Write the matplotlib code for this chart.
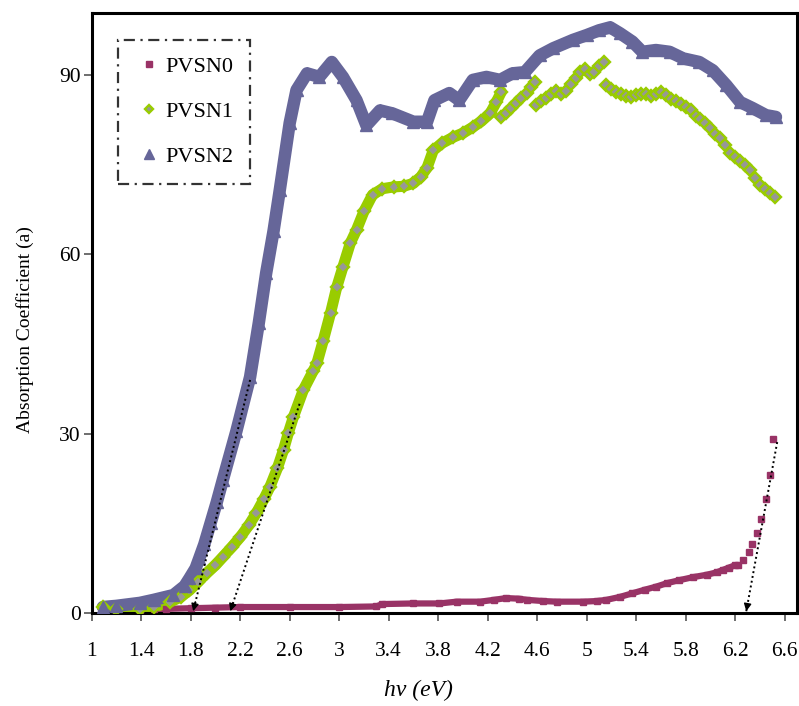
import matplotlib
matplotlib.use("Agg")
import matplotlib.pyplot as plt
import numpy as np
from matplotlib.ticker import FormatStrFormatter

plt.rcParams['font.family'] = 'serif'
plt.rcParams['font.serif'] = ['Liberation Serif', 'DejaVu Serif']

# photon energy (eV) and absorption coefficient for each film
pvsn0_e = [1.39, 1.5, 1.6, 1.8, 2.0, 2.2, 2.6, 3.0, 3.3, 3.35, 3.6, 3.81, 3.95, 4.14,
           4.25, 4.35, 4.45, 4.52, 4.65, 4.76, 4.97, 5.08, 5.16, 5.27, 5.37, 5.47,
           5.56, 5.65, 5.75, 5.86, 5.97, 6.05, 6.1, 6.15, 6.2,
           6.22, 6.26, 6.31, 6.34, 6.38, 6.41, 6.45, 6.48, 6.51]
pvsn0_a = [0.5, 0.6, 0.7, 0.8, 0.9, 1.0, 1.0, 1.0, 1.1, 1.5, 1.6, 1.6, 1.9, 1.9,
           2.2, 2.5, 2.4, 2.2, 2.0, 1.9, 1.9, 2.0, 2.2, 2.7, 3.3, 3.9,
           4.4, 5.0, 5.5, 6.0, 6.4, 6.8, 7.2, 7.6, 8.0,
           8.1, 8.9, 10.2, 11.5, 13.4, 15.7, 19.1, 23.1, 29.2]

pvsn1_e = [1.09, 1.2, 1.39, 1.5, 1.63, 1.72, 1.79, 1.86, 1.93, 2.0, 2.06, 2.13, 2.2,
           2.27, 2.33, 2.39, 2.44, 2.5, 2.55, 2.59, 2.63, 2.71, 2.79, 2.82, 2.87,
           2.93, 2.98, 3.03, 3.09, 3.14, 3.2, 3.27, 3.35, 3.44, 3.52, 3.6, 3.66,
           3.71, 3.76, 3.83, 3.92, 4.0, 4.08, 4.15, 4.22, 4.27, 4.31,
           4.31, 4.35, 4.39, 4.43, 4.47, 4.52, 4.55, 4.58,
           4.59, 4.63, 4.67, 4.71, 4.75, 4.79, 4.83, 4.87, 4.91, 4.95, 4.99, 5.03,
           5.06, 5.1, 5.14,
           5.16, 5.2, 5.24, 5.28, 5.32, 5.36, 5.4, 5.44, 5.48, 5.52, 5.56, 5.6,
           5.64, 5.68, 5.72, 5.76, 5.8, 5.84, 5.88, 5.92, 5.96, 6.0, 6.04, 6.08,
           6.12, 6.16, 6.2, 6.24, 6.28, 6.32, 6.36, 6.4, 6.44, 6.48, 6.52]
pvsn1_a = [1.0, 0.7, 0.6, 1.0, 1.8, 2.7, 3.8, 5.2, 6.7, 8.0, 9.4, 11.0, 12.7,
           14.7, 16.7, 19.0, 21.1, 24.2, 27.3, 30.2, 32.8, 37.3, 40.5, 41.8, 45.5,
           50.2, 54.5, 57.9, 61.9, 64.1, 67.2, 70.0, 71.0, 71.3, 71.4, 71.9, 73.0,
           74.5, 77.4, 78.6, 79.6, 80.3, 81.3, 82.3, 83.6, 85.5, 87.2,
           83.0, 83.6, 84.5, 85.3, 86.2, 87.0, 88.0, 88.9,
           85.0, 85.6, 86.2, 86.8, 87.3, 86.8, 87.4, 88.6, 89.5, 90.6, 91.0, 90.2,
           90.5, 91.5, 92.2,
           88.3, 87.6, 87.1, 86.9, 86.5, 86.4, 86.6, 86.9, 86.8, 86.5, 86.9, 87.2,
           86.6, 86.0, 85.6, 85.2, 84.7, 84.2, 83.2, 82.6, 82.0, 81.2, 80.2, 79.4,
           78.3, 77.0, 76.3, 75.6, 74.9, 74.2, 72.8, 71.7, 70.9, 70.2, 69.6]

pvsn2_e = [1.09, 1.2, 1.39, 1.5, 1.66, 1.75, 1.79, 1.84, 1.87, 1.91, 1.96, 2.01,
           2.06, 2.17, 2.28, 2.35, 2.41, 2.47, 2.52, 2.6, 2.655, 2.74, 2.84, 2.94,
           3.03, 3.14, 3.22, 3.33, 3.43, 3.6, 3.71, 3.77, 3.89, 3.97, 4.08, 4.19,
           4.3, 4.4, 4.5, 4.62, 4.73, 4.89, 5.0, 5.1, 5.19, 5.27, 5.37, 5.45, 5.56,
           5.67, 5.78, 5.91, 6.02, 6.13, 6.24, 6.34, 6.45, 6.53]
pvsn2_a = [1.0, 1.2, 1.7, 2.2, 3.0, 4.5, 5.8, 7.5, 9.2, 11.5, 15.0, 18.5,
           22.3, 30.5, 39.5, 48.5, 56.9, 64.0, 70.8, 82.0, 87.5, 90.3, 89.7, 92.2,
           89.7, 85.8, 81.6, 84.1, 83.6, 82.2, 82.2, 85.8, 87.0, 85.8, 89.2, 89.7,
           89.2, 90.3, 90.5, 93.3, 94.5, 95.9, 96.7, 97.5, 98.0, 97.0, 95.6, 93.9, 94.2,
           93.9, 92.8, 92.2, 90.8, 88.3, 85.5, 84.5, 83.3, 83.0]

# tangent lines extrapolated to the energy axis (optical band gaps)
gap_from_e = [2.28, 2.68, 6.54]
gap_from_a = [39.0, 35.0, 28.6]
gap_e = [1.82, 2.12, 6.29]

x_ticks = [1, 1.4, 1.8, 2.2, 2.6, 3, 3.4, 3.8, 4.2, 4.6, 5, 5.4, 5.8, 6.2, 6.6]
y_ticks = [0, 30, 60, 90]

c0 = '#993366'
c1_edge = '#99cc00'
c1_face = '#979797'
c2 = '#666699'

fig = plt.figure(figsize=(7.99, 7.06), dpi=100)
ax = fig.add_axes([0.1148, 0.1317, 0.8827, 0.8499])

e0, a0 = np.array(pvsn0_e), np.array(pvsn0_a)
e1, a1 = np.array(pvsn1_e), np.array(pvsn1_a)
e2, a2 = np.array(pvsn2_e), np.array(pvsn2_a)

# dense part of each spectrum drawn as a thick band under the markers
m0 = e0 <= 6.2
ax.plot(e0[m0], a0[m0], color=c0, lw=4.5, solid_capstyle='butt', zorder=2)
ax.plot(e1[:47], a1[:47], color=c1_edge, lw=8, solid_capstyle='round', zorder=2)
ax.plot(e2, a2, color=c2, lw=9, solid_capstyle='round', zorder=2)

ax.plot(e0, a0, 's', ms=5, color=c0, mec=c0, label='PVSN0', zorder=3)
ax.plot(e1, a1, 'D', ms=6, mfc=c1_face, mec=c1_edge, mew=1.7, label='PVSN1', zorder=3)
ax.plot(e2, a2, '^', ms=9, color=c2, mec=c2, label='PVSN2', zorder=3)

for xs, ys, xg in zip(gap_from_e, gap_from_a, gap_e):
    ax.plot([xs, xg], [ys, 0.3], color='black', lw=1.4, ls=(0, (1, 1.5)), zorder=4)
    ax.annotate('', xy=(xg, 0.3), xytext=(xg + 0.04 * (xs - xg), 0.3 + 0.04 * ys),
                arrowprops=dict(arrowstyle='-|>', color='black', lw=1,
                                mutation_scale=11, shrinkA=0, shrinkB=0), zorder=5)

ax.set_xlim(1, 6.7)
ax.set_ylim(0, 100.4)
ax.set_xticks(x_ticks)
ax.set_yticks(y_ticks)
ax.xaxis.set_major_formatter(FormatStrFormatter('%g'))
ax.tick_params(axis='x', direction='out', length=6, width=1.2, color='#555555',
               labelsize=15.5, pad=15)
ax.tick_params(axis='y', direction='out', length=6, width=1.2, color='#555555',
               labelsize=15.5, pad=2)
for s in ax.spines.values():
    s.set_linewidth(2.2)
    s.set_color('black')

ax.set_xlabel('hv (eV)', fontsize=17, style='italic')
ax.xaxis.set_label_coords(0.4627, -0.112)
ax.set_ylabel('Absorption Coefficient (a)', fontsize=14)
ax.yaxis.set_label_coords(-0.082, 0.472)

leg = ax.legend(loc='upper left', bbox_to_anchor=(0.0373, 0.955), borderaxespad=0,
                numpoints=1, fontsize=16, frameon=True, fancybox=False,
                handlelength=1.3, handletextpad=0.1, borderpad=0.75, labelspacing=1.1,
                markerscale=0.75)
frame = leg.get_frame()
frame.set_edgecolor('black')
frame.set_linewidth(1.6)
frame.set_linestyle((0, (5, 2.5, 1, 2.5)))

fig.savefig('out.png', dpi=100)
